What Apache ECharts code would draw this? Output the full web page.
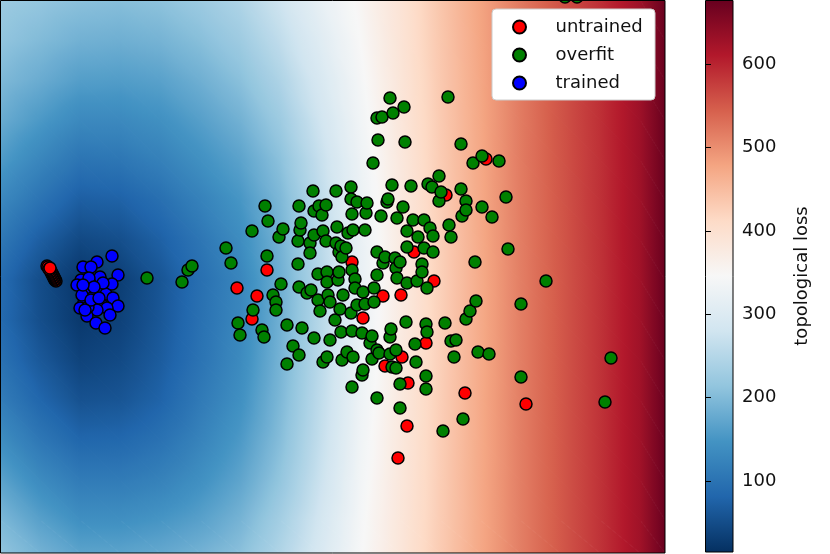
<!DOCTYPE html>
<html><head><meta charset="utf-8">
<script src="https://cdn.jsdelivr.net/npm/echarts@6/dist/echarts.min.js"></script>
<style>html,body{margin:0;padding:0;background:#fff}#c{width:830px;height:554px}</style>
</head><body><div id="c"></div>
<script>
const seriesNames = ['untrained', 'overfit', 'trained'];

const untrained = [[56,281],[55,280],[55,279],[54,278],[54,277],[53,276],[53,275],[52,274],[52,273],[51,272],
  [51,271],[47,266],[48,267],[50,270],[49,269],[50,268],
  [237,288],[252,319],[257,296],[267,270],[352,262],[363,318],[383,296],[401,295],[402,357],[385,366],
  [398,458],[407,426],[408,383],[414,252],[426,343],[434,281],[446,195],[486,159],[465,393],[526,404]];

const overfit = [[147,278],[182,282],[188,270],[192,266],[226,248],[231,263],[238,323],[240,335],[253,310],
  [262,330],[264,337],[267,256],[273,295],[276,302],[276,310],[281,284],[252,231],[265,206],[268,221],[279,237],
  [283,229],[287,325],[293,346],[299,355],[287,364],[298,241],[298,264],[299,206],[300,230],[301,223],[302,328],
  [299,287],[307,293],[310,243],[311,290],[310,253],[313,191],[314,211],[314,235],[314,338],[318,274],[318,300],
  [319,206],[320,311],[322,215],[323,231],[326,205],[326,241],[327,272],[327,282],[328,295],[330,302],[330,340],
  [323,362],[327,357],[335,320],[336,191],[336,243],[337,227],[338,280],[339,252],[339,272],[340,309],[341,246],
  [341,332],[342,257],[342,360],[343,295],[346,248],[347,352],[348,233],[351,187],[351,199],[351,313],[352,214],
  [352,270],[352,331],[352,387],[353,230],[353,357],[355,279],[355,288],[357,202],[357,305],[362,333],[362,375],
  [363,292],[363,370],[365,230],[365,304],[366,213],[367,203],[370,343],[372,336],[372,359],[373,163],[374,288],
  [374,302],[377,118],[377,252],[377,275],[377,350],[377,398],[378,140],[379,353],[381,216],[382,117],[383,263],
  [385,257],[387,202],[388,199],[390,98],[390,337],[390,354],[391,329],[392,185],[392,367],[396,368],[393,113],
  [395,258],[396,268],[396,350],[397,218],[397,278],[400,262],[400,384],[400,408],[403,207],[404,107],[405,142],
  [406,322],[407,231],[407,247],[407,283],[411,186],[413,220],[415,344],[416,362],[417,281],[418,237],[422,264],
  [422,272],[424,220],[424,248],[426,324],[426,376],[426,389],[427,288],[427,332],[428,184],[430,228],[432,187],
  [433,236],[433,252],[439,201],[439,176],[441,192],[443,431],[445,323],[448,97],[449,225],[451,237],[451,341],
  [454,357],[456,340],[461,144],[461,189],[462,216],[463,419],[466,201],[466,210],[466,319],[470,311],[473,163],
  [475,262],[476,301],[478,352],[482,156],[482,207],[489,354],[492,217],[499,161],[506,197],[508,249],[521,304],
  [521,377],[546,281],[605,402],[611,358],[565,-3],[577,-3]];

const trained = [[112,256],[97,262],[83,267],[91,267],[100,277],[118,275],[81,280],[77,285],[87,290],[98,292],
  [106,294],[112,284],[113,298],[118,306],[84,302],[92,298],[101,304],[107,308],[97,310],[87,316],[110,315],
  [96,323],[105,328],[82,295],[89,278],[80,308],[88,307],[103,283],[94,287],[83,285],[91,300],[99,298],[85,310]];

// background loss surface (columns = fieldX, rows = fieldY)
const fieldX = [0,40,80,120,160,200,240,280,320,360,400,440,480,520,560,600,640,665];
const fieldY = [0,40,80,120,160,200,240,280,320,360,400,440,480,520,553];
const fieldLoss = [
  [225,216,208,205,210,224,244,278,318,352,392,438,478,520,556,590,630,675],
  [214,200,187,184,190,205,226,262,305,346,390,436,477,520,556,590,630,675],
  [198,180,162,160,166,184,207,243,292,340,387,434,476,519,555,589,630,675],
  [180,155,133,133,143,163,187,225,280,334,384,432,475,518,555,589,629,675],
  [158,128,102,105,120,143,167,208,268,328,381,430,474,518,554,588,629,675],
  [132,100,72,76,94,121,150,195,260,324,378,428,473,517,553,588,628,675],
  [108,72,45,52,74,104,137,188,254,321,376,426,472,516,552,587,628,675],
  [90,50,22,32,60,94,127,183,250,320,375,425,471,515,551,586,627,675],
  [88,52,26,36,62,96,129,185,251,321,375,425,471,515,551,586,627,675],
  [98,64,38,46,68,100,134,189,254,324,377,426,471,515,551,586,627,675],
  [115,82,56,60,78,110,142,195,259,328,379,427,472,515,551,586,627,675],
  [140,106,82,84,98,124,155,203,265,332,381,428,472,515,551,586,627,675],
  [168,135,112,112,122,142,170,215,273,336,383,429,473,515,551,586,627,675],
  [196,165,142,142,150,165,190,232,284,340,385,430,473,515,551,586,627,675],
  [214,188,168,168,175,188,207,245,292,343,386,431,474,515,551,586,627,675]
];

const cbMin = 15, cbMax = 677;
const cbTicks = [100, 200, 300, 400, 500, 600];
const RDBU_R = ['#053061','#2166ac','#4393c3','#92c5de','#d1e5f0','#f7f7f7','#fddbc7','#f4a582','#d6604d','#b2182b','#67001f'];

const FONT = 'DejaVu Sans';
const rgbStops = RDBU_R.map(h => [parseInt(h.slice(1,3),16), parseInt(h.slice(3,5),16), parseInt(h.slice(5,7),16)]);
function cmap(v) {
  let t = (v - cbMin) / (cbMax - cbMin);
  t = Math.max(0, Math.min(1, t));
  const p = t * 10;
  const i = Math.min(9, Math.floor(p));
  const f = p - i;
  const a = rgbStops[i], b = rgbStops[i + 1];
  const c = [0,1,2].map(k => Math.round(a[k] + (b[k] - a[k]) * f));
  return 'rgb(' + c.join(',') + ')';
}

function tri(a, b, c, va, vb, vc) {
  const e1 = [b[0]-a[0], b[1]-a[1]], e2 = [c[0]-a[0], c[1]-a[1]];
  const det = e1[0]*e2[1] - e1[1]*e2[0];
  const d1 = vb - va, d2 = vc - va;
  const vmin = Math.min(va, vb, vc), vmax = Math.max(va, vb, vc);
  let fill;
  if (Math.abs(det) < 1e-9 || vmax - vmin < 0.5) {
    fill = cmap((va + vb + vc) / 3);
  } else {
    const gx = (d1*e2[1] - e1[1]*d2) / det;
    const gy = (e1[0]*d2 - d1*e2[0]) / det;
    const g2 = gx*gx + gy*gy;
    const s0 = (vmin - va) / g2, s1 = (vmax - va) / g2;
    const n = Math.max(2, Math.ceil((vmax - vmin) / 6) + 1);
    const stops = [];
    for (let k = 0; k < n; k++) stops.push({offset: k/(n-1), color: cmap(vmin + (vmax - vmin) * k/(n-1))});
    fill = new echarts.graphic.LinearGradient(a[0]+gx*s0, a[1]+gy*s0, a[0]+gx*s1, a[1]+gy*s1, stops, true);
  }
  return {type: 'polygon', shape: {points: [a, b, c]}, style: {fill: fill, stroke: fill, lineWidth: 0.8}, silent: true};
}

const cells = [];
for (let j = 0; j < fieldY.length - 1; j++)
  for (let i = 0; i < fieldX.length - 1; i++) cells.push([fieldX[i], fieldY[j], i, j]);

function renderField(params, api) {
  const i = api.value(2), j = api.value(3);
  const p00 = api.coord([fieldX[i], fieldY[j]]), p10 = api.coord([fieldX[i+1], fieldY[j]]);
  const p01 = api.coord([fieldX[i], fieldY[j+1]]), p11 = api.coord([fieldX[i+1], fieldY[j+1]]);
  const v00 = fieldLoss[j][i], v10 = fieldLoss[j][i+1], v01 = fieldLoss[j+1][i], v11 = fieldLoss[j+1][i+1];
  return {type: 'group', children: [tri(p00, p10, p11, v00, v10, v11), tri(p00, p11, p01, v00, v11, v01)]};
}

function renderBar(params, api) {
  const top = api.coord([0, cbMax]), bot = api.coord([1, cbMin]);
  return {
    type: 'rect',
    shape: {x: top[0], y: top[1], width: bot[0] - top[0], height: bot[1] - top[1]},
    style: {fill: new echarts.graphic.LinearGradient(0, 1, 0, 0, RDBU_R.map((c, k) => ({offset: k/10, color: c})))},
    silent: true
  };
}

const pointStyle = (c) => ({color: c, borderColor: '#000', borderWidth: 1.5, opacity: 1});

const chart = echarts.init(document.getElementById('c'), null, {renderer: 'canvas'});
chart.setOption({
  animation: false,
  backgroundColor: '#fff',
  textStyle: {fontFamily: FONT},
  grid: [
    {left: 0, top: 0, width: 665, height: 553},
    {left: 706, top: 0, width: 27, height: 552}
  ],
  xAxis: [
    {gridIndex: 0, type: 'value', min: 0, max: 665, show: false},
    {gridIndex: 1, type: 'value', min: 0, max: 1, show: false}
  ],
  yAxis: [
    {gridIndex: 0, type: 'value', min: 0, max: 553, inverse: true, show: false},
    {gridIndex: 1, type: 'value', min: cbMin, max: cbMax, position: 'right',
     name: 'topological loss', nameLocation: 'middle', nameRotate: 90, nameGap: 60,
     nameTextStyle: {fontFamily: FONT, fontSize: 18, color: '#111'},
     axisLine: {show: false}, splitLine: {show: false},
     axisTick: {show: true, length: 5, inside: false, customValues: cbTicks, lineStyle: {color: '#000', width: 1}},
     axisLabel: {customValues: cbTicks, fontFamily: FONT, fontSize: 18, color: '#111', margin: 9}}
  ],
  legend: {
    data: seriesNames, orient: 'vertical', left: 512, top: 18, padding: 0, z: 20,
    itemWidth: 62, itemHeight: 13, itemGap: 10,
    textStyle: {fontFamily: FONT, fontSize: 18, color: '#111', lineHeight: 18}
  },
  graphic: [
    {type: 'rect', z: 19, shape: {x: 492, y: 9, width: 163, height: 91, r: 4},
     style: {fill: '#fff', stroke: '#cccccc', lineWidth: 1}, silent: true},
    {type: 'rect', z: 100, shape: {x: 0.5, y: 0.5, width: 664.5, height: 552.5},
     style: {fill: null, stroke: '#000', lineWidth: 1}, silent: true},
    {type: 'rect', z: 100, shape: {x: 705.5, y: 0.5, width: 27.5, height: 551.5},
     style: {fill: null, stroke: '#000', lineWidth: 1}, silent: true}
  ],
  series: [
    {type: 'custom', name: 'field', xAxisIndex: 0, yAxisIndex: 0, data: cells, renderItem: renderField,
     encode: {x: 0, y: 1}, z: 0, silent: true, clip: true},
    {type: 'custom', name: 'colorbar', xAxisIndex: 1, yAxisIndex: 1, data: [[0, cbMin]], renderItem: renderBar, z: 0, silent: true},
    {type: 'scatter', name: 'untrained', data: untrained, symbol: 'circle', symbolSize: 12, itemStyle: pointStyle('#ff0000'), z: 5, clip: false},
    {type: 'scatter', name: 'overfit', data: overfit, symbol: 'circle', symbolSize: 12, itemStyle: pointStyle('#008000'), z: 6, clip: false},
    {type: 'scatter', name: 'trained', data: trained, symbol: 'circle', symbolSize: 12, itemStyle: pointStyle('#0000ff'), z: 7, clip: false}
  ]
});
</script>
</body></html>
